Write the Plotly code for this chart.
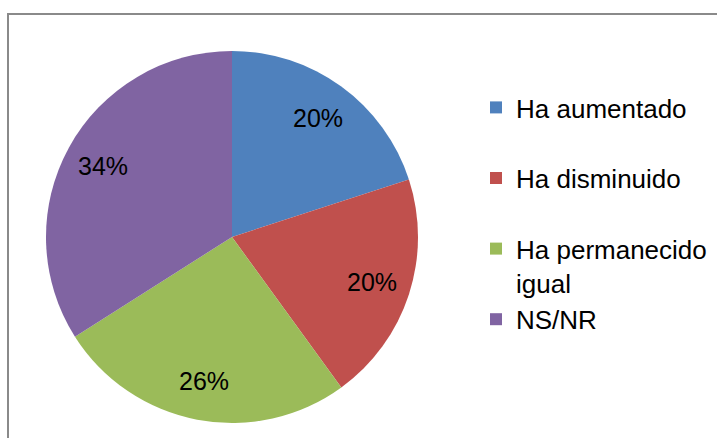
import math
import plotly.graph_objects as go

categories = ["Ha aumentado", "Ha disminuido", "Ha permanecido<br>igual", "NS/NR"]
values = [20, 20, 26, 34]
colors = ["#4F81BD", "#C0504D", "#9BBB59", "#8064A2"]

W, H = 717, 438
# pie domain (pixels -> paper)
px0, px1, py0, py1 = 46, 418, 51, 423
dom_x = [px0 / W, px1 / W]
dom_y = [1 - py1 / H, 1 - py0 / H]
cx, cy = (px0 + px1) / 2, (py0 + py1) / 2
R = (px1 - px0) / 2

legend_labels = [c if "<br>" in c else c + "<br> " for c in categories]

fig = go.Figure(go.Pie(
    labels=legend_labels,
    values=values,
    marker=dict(colors=colors, line=dict(width=0)),
    sort=False,
    direction="clockwise",
    rotation=0,
    textinfo="none",
    hoverinfo="label+percent",
    domain=dict(x=dom_x, y=dom_y),
))

# percentage labels placed inside slices
total = sum(values)
cum = 0
annotations = []
for v in values:
    mid = (cum + v / 2) / total * 2 * math.pi
    cum += v
    r = 0.79 * R
    x = cx + r * math.sin(mid)
    y = cy - r * math.cos(mid)
    annotations.append(dict(
        x=x / W, y=1 - y / H, xref="paper", yref="paper",
        text=f"{round(v / total * 100)}%", showarrow=False,
        font=dict(family="Liberation Sans, Arial, sans-serif", size=25, color="#000000"),
        xanchor="center", yanchor="middle",
    ))

fig.update_layout(
    width=W, height=H,
    margin=dict(l=0, r=0, t=0, b=0),
    paper_bgcolor="#FFFFFF",
    plot_bgcolor="#FFFFFF",
    font=dict(family="Liberation Sans, Arial, sans-serif", color="#000000"),
    showlegend=True,
    legend=dict(
        x=476 / W, y=1 - 84 / H, xanchor="left", yanchor="top",
        font=dict(family="Liberation Sans, Arial, sans-serif", size=26, color="#000000"),
        valign="top", bgcolor="rgba(0,0,0,0)",
    ),
    annotations=annotations,
    shapes=[dict(
        type="rect", xref="paper", yref="paper",
        x0=8 / W, x1=1.02, y0=-0.05, y1=1 - 14 / H,
        line=dict(color="#8A8A8A", width=2), layer="below",
    )],
)

fig.write_html(
    "out.html",
    config={"displayModeBar": False},
    post_script="document.body.style.margin='0';document.body.style.overflow='hidden';",
)
